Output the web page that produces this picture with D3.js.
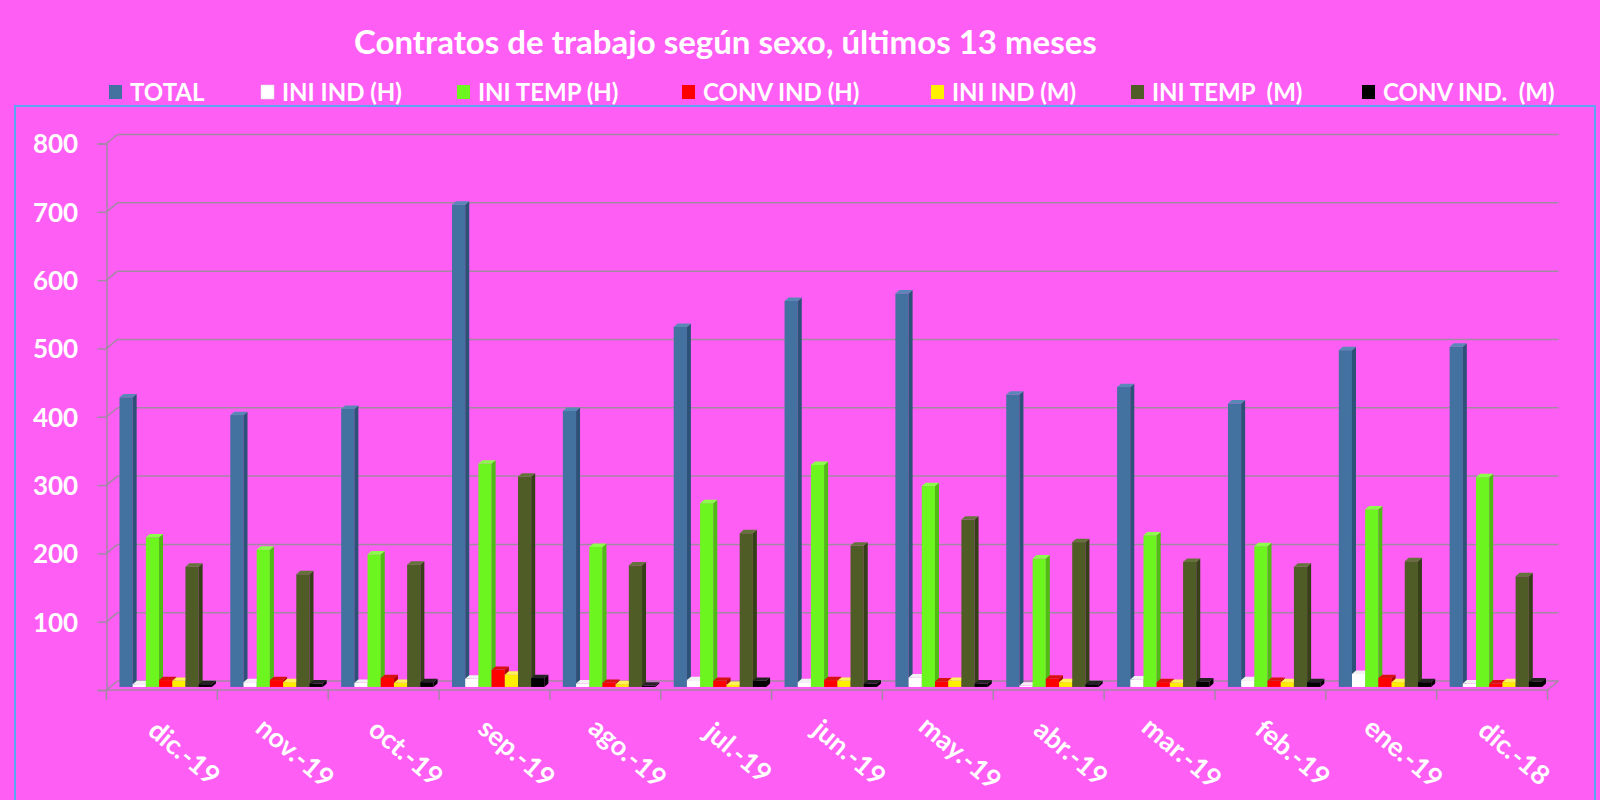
<!DOCTYPE html>
<html>
<head>
<meta charset="utf-8">
<script src="https://cdn.jsdelivr.net/npm/d3@7"></script>
<style>
  html, body { margin: 0; padding: 0; background: #ff5ef5; }
  svg { display: block; font-family: Lato, "Open Sans", sans-serif; }
</style>
</head>
<body>
<svg id="chart" width="1600" height="800"></svg>
<script>
const months = ["dic.-19","nov.-19","oct.-19","sep.-19","ago.-19","jul.-19","jun.-19","may.-19","abr.-19","mar.-19","feb.-19","ene.-19","dic.-18"];
const seriesNames = ["TOTAL","INI IND (H)","INI TEMP (H)","CONV IND (H)","INI IND (M)","INI TEMP  (M)","CONV IND.  (M)"];
const total     = [424, 398, 407, 706, 404, 527, 565, 576, 428, 439, 415, 493, 498];
const iniIndH   = [4, 7, 6, 12, 5, 10, 7, 14, 2, 11, 10, 19, 5];
const iniTempH  = [219, 201, 194, 327, 205, 269, 325, 294, 188, 222, 206, 260, 307];
const convIndH  = [10, 10, 13, 25, 6, 9, 10, 8, 12, 7, 9, 13, 5];
const iniIndM   = [9, 7, 6, 18, 4, 3, 9, 9, 7, 6, 7, 7, 7];
const iniTempM  = [176, 165, 179, 308, 178, 225, 207, 245, 212, 183, 176, 184, 162];
const convIndM  = [4, 5, 7, 13, 2, 9, 5, 5, 4, 8, 7, 7, 8];
const yTicks = [100, 200, 300, 400, 500, 600, 700, 800];
const gridTicks = [0, 100, 200, 300, 400, 500, 600, 700, 800];

const seriesValues = [total, iniIndH, iniTempH, convIndH, iniIndM, iniTempM, convIndM];
const fronts = ["#4371a0", "#ffffff", "#6cf51f", "#ff0000", "#ffee00", "#4f5c25", "#000000"];
const sides  = ["#2d5277", "#d0d0d0", "#4fbc14", "#b00000", "#c8b400", "#354018", "#000000"];
const tops   = ["#5a88b6", "#f2f2f2", "#8cff4a", "#d81010", "#fff35a", "#64733a", "#222222"];

const svg = d3.select("#chart");
const W = 1600, H = 800;
svg.append("rect").attr("width", W).attr("height", H).attr("fill", "#ff5ef5");

// title
svg.append("text").attr("x", 354).attr("y", 54)
  .attr("fill", "#ffffff").attr("font-weight", "bold").attr("font-size", 33)
  .text("Contratos de trabajo según sexo, últimos 13 meses");

// legend
const legendX = [109, 261, 457, 682, 931, 1131, 1362];
const lg = svg.append("g");
seriesNames.forEach((name, i) => {
  lg.append("rect").attr("x", legendX[i]).attr("y", 85).attr("width", 13).attr("height", 14)
    .attr("fill", fronts[i]).attr("stroke", i === 1 ? "#dddddd" : "none").attr("stroke-width", 0.5);
  lg.append("text").attr("x", legendX[i] + 21).attr("y", 101)
    .attr("fill", "#ffffff").attr("font-weight", "bold").attr("font-size", 24)
    .style("white-space", "pre").text(name);
});

// chart area border
svg.append("rect").attr("x", 15).attr("y", 106).attr("width", 1580).attr("height", 720)
  .attr("fill", "none").attr("stroke", "#5aa6f0").attr("stroke-width", 2);

// geometry
const frontLeft = 106.5, frontRight = 1547.5;
const depthX = 11, depthY = -9;
const barFrac = 0.34;
const x = d3.scaleBand().domain(months).range([frontLeft, frontRight]).paddingInner(0).paddingOuter(0);
const xs = d3.scaleBand().domain(d3.range(seriesNames.length)).range([0, x.bandwidth()]).paddingInner(0).paddingOuter(0.7);
const yFront = d3.scaleLinear().domain([0, 800]).range([690, 143.5]);
const yB = v => yFront(v) + depthY * barFrac;
const yBack = v => yFront(v) + depthY;
const gridColor = "#a388a3";

// gridlines on back wall and diagonals
const grid = svg.append("g");
gridTicks.forEach(t => {
  grid.append("line").attr("x1", frontLeft + depthX).attr("x2", frontRight + depthX)
    .attr("y1", yBack(t)).attr("y2", yBack(t)).attr("stroke", gridColor).attr("stroke-width", 1.5);
  grid.append("line").attr("x1", frontLeft).attr("y1", yFront(t))
    .attr("x2", frontLeft + depthX).attr("y2", yBack(t)).attr("stroke", gridColor).attr("stroke-width", 1.5);
});
grid.append("line").attr("x1", frontLeft).attr("x2", frontRight).attr("y1", yFront(0)).attr("y2", yFront(0))
  .attr("stroke", gridColor).attr("stroke-width", 1.5);
grid.append("line").attr("x1", frontRight).attr("y1", yFront(0)).attr("x2", frontRight + depthX).attr("y2", yBack(0))
  .attr("stroke", gridColor).attr("stroke-width", 1.5);

// y axis
const yAxisG = svg.append("g").attr("transform", `translate(${frontLeft},0)`)
  .call(d3.axisLeft(yFront).tickValues(gridTicks).tickSize(9).tickFormat(d => d === 0 ? "" : d));
yAxisG.select(".domain").attr("stroke", gridColor).attr("stroke-width", 1.5);
yAxisG.selectAll(".tick line").attr("stroke", gridColor).attr("stroke-width", 1.5);
yAxisG.selectAll(".tick text").attr("fill", "#ffffff").attr("font-weight", "bold")
  .attr("font-size", 26).attr("font-family", "Lato, sans-serif")
  .attr("x", -51).attr("text-anchor", "middle").attr("dy", "0.36em");

// x axis ticks and labels
const xAxisG = svg.append("g");
const boundaries = months.map(m => x(m)).concat([frontRight]);
boundaries.forEach(b => {
  xAxisG.append("line").attr("x1", b).attr("x2", b).attr("y1", yFront(0)).attr("y2", yFront(0) + 10)
    .attr("stroke", gridColor).attr("stroke-width", 1.5);
});
months.forEach(m => {
  const cx = x(m) + x.bandwidth() / 2 + 23;
  xAxisG.append("text").attr("transform", `translate(${cx},752) rotate(40)`)
    .attr("text-anchor", "middle").attr("dominant-baseline", "central")
    .attr("fill", "#ffffff").attr("font-weight", "bold").attr("font-size", 27)
    .text(m);
});

// bars (3D)
const sideW = 4, sideH = 3.4;
const bars = svg.append("g");
months.forEach((m, mi) => {
  seriesValues.forEach((vals, si) => {
    const v = vals[mi];
    const x0 = x(m) + depthX * barFrac + xs(si);
    const x1 = x0 + xs.bandwidth();
    const yb = yB(0), yt = yB(v);
    const g = bars.append("g");
    g.append("rect").attr("x", x0).attr("y", yt).attr("width", x1 - x0).attr("height", yb - yt)
      .attr("fill", fronts[si]);
    g.append("path").attr("d", `M${x1},${yb}L${x1},${yt}L${x1 + sideW},${yt - sideH}L${x1 + sideW},${yb - sideH}Z`)
      .attr("fill", sides[si]);
    g.append("path").attr("d", `M${x0},${yt}L${x1},${yt}L${x1 + sideW},${yt - sideH}L${x0 + sideW},${yt - sideH}Z`)
      .attr("fill", tops[si]);
  });
});
</script>
</body>
</html>
